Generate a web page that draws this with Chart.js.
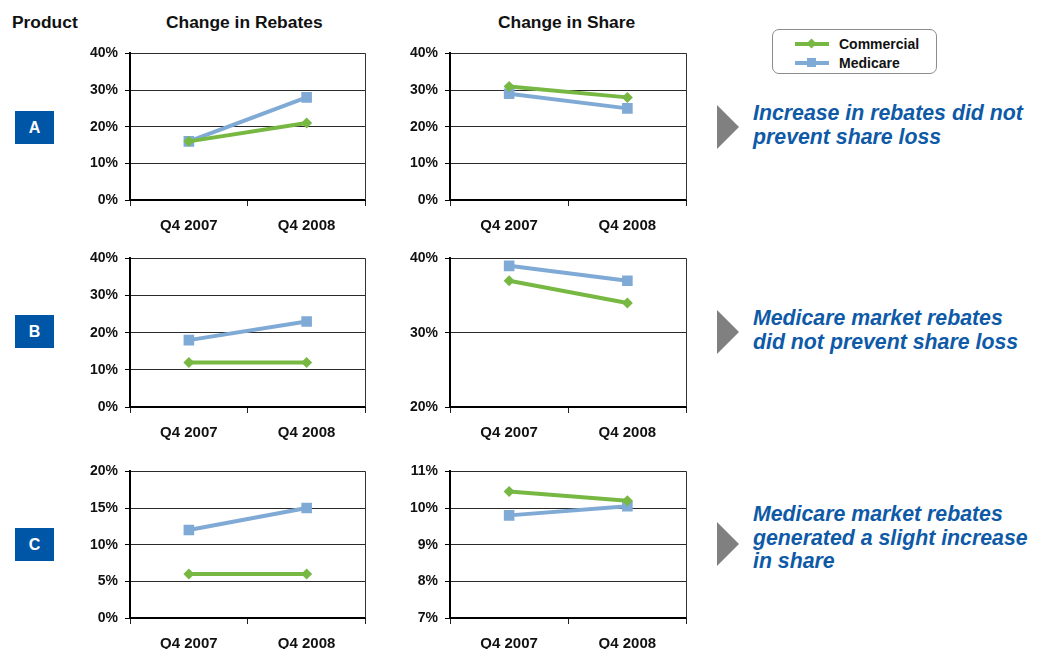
<!DOCTYPE html>
<html>
<head>
<meta charset="utf-8">
<script src="https://cdn.jsdelivr.net/npm/chart.js@4.4.1/dist/chart.umd.min.js"></script>
<style>
  html, body { margin:0; padding:0; background:#fff; }
  body { width:1044px; height:649px; position:relative; overflow:hidden; font-family:"Liberation Sans", Arial, sans-serif; }
  .abs { position:absolute; }
  .hdr { font-weight:bold; font-size:17.4px; color:#111; white-space:nowrap; }
  .prod { width:39px; height:33px; background:#0056A6; color:#fff; font-weight:bold; font-size:16px; line-height:33px; text-align:center; }
  .tri { width:0; height:0; border-top:22px solid transparent; border-bottom:22px solid transparent; border-left:22px solid #808080; }
  .call { color:#0E5AA7; font-weight:bold; font-style:italic; font-size:21.3px; line-height:23.5px; white-space:nowrap; }
  .legend { left:772px; top:29px; width:165px; height:45px; border:1.5px solid #8c8c8c; border-radius:7px; box-sizing:border-box; }
  .lgline { position:absolute; height:4px; width:34px; left:22px; }
  .lgtext { position:absolute; left:66px; font-weight:bold; font-size:14px; color:#111; white-space:nowrap; line-height:16px; }
  canvas { position:absolute; }
</style>
</head>
<body>
<div class="abs hdr" style="left:12px;top:12px;">Product</div>
<div class="abs hdr" id="hRebates" style="left:166px;top:12px;">Change in Rebates</div>
<div class="abs hdr" id="hShare" style="left:498px;top:12px;">Change in Share</div>

<div class="abs legend">
  <div class="lgline" style="top:12px;background:#77B843;"></div>
  <div class="abs" style="left:35px;top:10px;width:7px;height:7px;background:#77B843;transform:rotate(45deg);"></div>
  <div class="lgtext" style="top:6px;">Commercial</div>
  <div class="lgline" style="top:31px;background:#80AAD6;"></div>
  <div class="abs" style="left:34px;top:28px;width:9px;height:9px;background:#80AAD6;"></div>
  <div class="lgtext" style="top:25px;">Medicare</div>
</div>

<div id="overlay"></div>

<canvas id="rebatesA"></canvas>
<canvas id="shareA"></canvas>
<canvas id="rebatesB"></canvas>
<canvas id="shareB"></canvas>
<canvas id="rebatesC"></canvas>
<canvas id="shareC"></canvas>

<script>
// ---------------- DATA ----------------
const categories = ['Q4 2007', 'Q4 2008'];
const seriesNames = ['Commercial', 'Medicare'];
const products = ['A', 'B', 'C'];

const rebatesA_commercial = [16, 21];
const rebatesA_medicare   = [16, 28];
const shareA_commercial   = [31, 28];
const shareA_medicare     = [29, 25];

const rebatesB_commercial = [12, 12];
const rebatesB_medicare   = [18, 23];
const shareB_commercial   = [37, 34];
const shareB_medicare     = [39, 37];

const rebatesC_commercial = [6, 6];
const rebatesC_medicare   = [12, 15];
const shareC_commercial   = [10.45, 10.2];
const shareC_medicare     = [9.8, 10.05];

// axis ranges: [min, max, step]
const rebatesA_axis = [0, 40, 10];
const shareA_axis   = [0, 40, 10];
const rebatesB_axis = [0, 40, 10];
const shareB_axis   = [20, 40, 10];
const rebatesC_axis = [0, 20, 5];
const shareC_axis   = [7, 11, 1];

const callouts = [
  ['Increase in rebates did not', 'prevent share loss'],
  ['Medicare market rebates', 'did not prevent share loss'],
  ['Medicare market rebates', 'generated a slight increase', 'in share']
];

// ---------------- LAYOUT ----------------
const GREEN = '#77B843';
const BLUE  = '#80AAD6';
const rowsLayout = [ {top:52, bottom:200}, {top:257, bottom:407}, {top:470, bottom:618} ];
const colsLayout = [ {left:130, right:370}, {left:450, right:691} ];
const productBoxTops = [111, 315, 528];
const triTops = [105, 310, 522];
const callTops = [102, 307, 503];

const overlay = document.getElementById('overlay');
products.forEach((p, i) => {
  const b = document.createElement('div');
  b.className = 'abs prod'; b.style.left = '15px'; b.style.top = productBoxTops[i] + 'px';
  b.textContent = p; overlay.appendChild(b);
  const t = document.createElement('div');
  t.className = 'abs tri'; t.style.left = '717px'; t.style.top = triTops[i] + 'px';
  overlay.appendChild(t);
  const c = document.createElement('div');
  c.className = 'abs call'; c.style.left = '753px'; c.style.top = callTops[i] + 'px';
  c.innerHTML = callouts[i].join('<br>');
  overlay.appendChild(c);
});

const YW = 60, PT = 6, TOPOFF = 14, PR = 3, XH = 40;

const rightBorder = {
  id: 'rightBorder',
  afterDraw(chart) {
    const {ctx, chartArea} = chart;
    ctx.save();
    ctx.strokeStyle = '#333';
    ctx.lineWidth = 1;
    ctx.beginPath();
    const x = Math.round(chartArea.right) - 0.5;
    ctx.moveTo(x, chartArea.top);
    ctx.lineTo(x, chartArea.bottom);
    ctx.stroke();
    ctx.restore();
  }
};

function makeChart(id, row, col, commercial, medicare, axis) {
  const r = rowsLayout[row], c = colsLayout[col];
  const cv = document.getElementById(id);
  const w = (c.right - c.left) + YW + PR;
  const h = (r.bottom - r.top) + TOPOFF + XH;
  cv.width = w; cv.height = h;
  cv.style.width = w + 'px'; cv.style.height = h + 'px';
  cv.style.left = (c.left - YW) + 'px';
  cv.style.top = (r.top - TOPOFF) + 'px';
  new Chart(cv, {
    type: 'line',
    data: {
      labels: categories,
      datasets: [
        { label: seriesNames[0], data: commercial, borderColor: GREEN, backgroundColor: GREEN,
          borderWidth: 4, pointStyle: 'rectRot', pointRadius: 5.5, pointBorderWidth: 0, pointBackgroundColor: GREEN },
        { label: seriesNames[1], data: medicare, borderColor: BLUE, backgroundColor: BLUE,
          borderWidth: 4, pointStyle: 'rect', pointRadius: 7.5, pointBorderWidth: 0, pointBackgroundColor: BLUE }
      ]
    },
    options: {
      responsive: false,
      animation: false,
      devicePixelRatio: 1,
      layout: { padding: { top: PT, right: PR, left: 0, bottom: 0 } },
      plugins: { legend: { display: false }, tooltip: { enabled: false } },
      scales: {
        x: {
          type: 'category',
          offset: true,
          grid: { offset: true, drawOnChartArea: false, drawTicks: true, tickLength: 6, tickColor: '#222', lineWidth: 1 },
          border: { display: true, color: '#000', width: 2 },
          ticks: { color: '#111', font: { family: 'Liberation Sans', weight: 'bold', size: 15 }, padding: 11, maxRotation: 0 },
          afterFit(s) { s.height = XH; }
        },
        y: {
          min: axis[0], max: axis[1],
          grid: { color: '#2a2a2a', lineWidth: 1, drawTicks: true, tickLength: 5, tickColor: '#000' },
          border: { display: true, color: '#000', width: 2 },
          ticks: { stepSize: axis[2], color: '#111', font: { family: 'Liberation Sans', weight: 'bold', size: 14 }, padding: 7,
                   callback: v => v + '%' },
          afterFit(s) { s.width = YW; }
        }
      }
    },
    plugins: [rightBorder]
  });
}

makeChart('rebatesA', 0, 0, rebatesA_commercial, rebatesA_medicare, rebatesA_axis);
makeChart('shareA',   0, 1, shareA_commercial,   shareA_medicare,   shareA_axis);
makeChart('rebatesB', 1, 0, rebatesB_commercial, rebatesB_medicare, rebatesB_axis);
makeChart('shareB',   1, 1, shareB_commercial,   shareB_medicare,   shareB_axis);
makeChart('rebatesC', 2, 0, rebatesC_commercial, rebatesC_medicare, rebatesC_axis);
makeChart('shareC',   2, 1, shareC_commercial,   shareC_medicare,   shareC_axis);
</script>
</body>
</html>
